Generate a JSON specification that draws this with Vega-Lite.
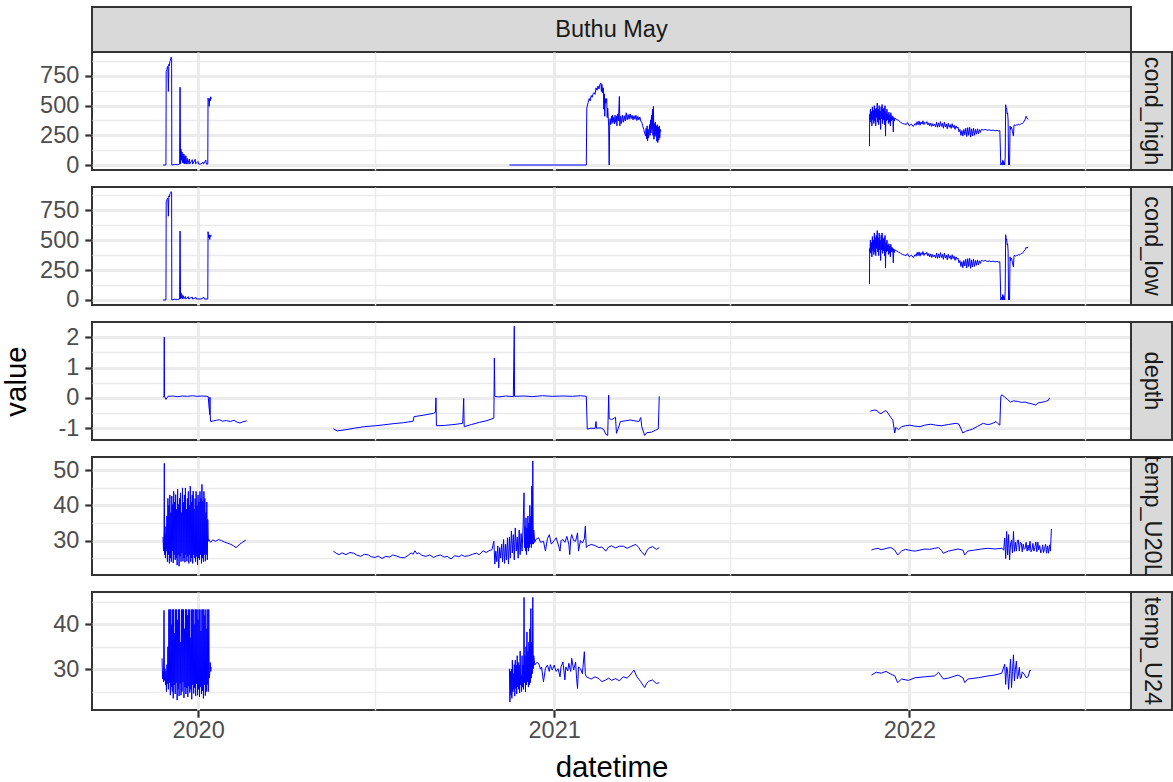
{
"$schema":"https://vega.github.io/schema/vega-lite/v6.json",
"padding":{"left":0,"top":6,"right":0,"bottom":0},
"background":"white",
"config":{
 "font":"Liberation Sans",
 "view":{"stroke":"#333333","strokeWidth":2},
 "axis":{"gridColor":"#ebebeb","domain":false,"labelFont":"Liberation Sans","labelFontSize":23.5,"labelColor":"#4d4d4d","labelPadding":6,"tickColor":"#333333","tickSize":7.2,"tickWidth":2.2,"titleFont":"Liberation Sans","titleFontSize":29.4,"titleColor":"#000000","titleFontWeight":"normal","labelFlush":false,"labelOverlap":false}
},
"datasets":{
"ch":[
{"t":"2019-11-26","v":0},{"t":"2019-11-29","v":0},{"t":"2019-11-29T06:00Z","v":790},{"t":"2019-11-30","v":805},{"t":"2019-11-30T12:00Z","v":830},{"t":"2019-12-01","v":815},{"t":"2019-12-01T12:00Z","v":620},{"t":"2019-12-02","v":850},{"t":"2019-12-02T12:00Z","v":835},{"t":"2019-12-03","v":870},{"t":"2019-12-03T12:00Z","v":880},{"t":"2019-12-04","v":900},{"t":"2019-12-04T08:00Z","v":908},{"t":"2019-12-04T20:00Z","v":890},{"t":"2019-12-05","v":0},{"t":"2019-12-08","v":5},{"t":"2019-12-11","v":3},{"t":"2019-12-13","v":8},{"t":"2019-12-13T12:00Z","v":656},{"t":"2019-12-14","v":10},{"t":"2019-12-14T12:00Z","v":133},{"t":"2019-12-15","v":40},{"t":"2019-12-15T12:00Z","v":110},{"t":"2019-12-16","v":20},{"t":"2019-12-16T12:00Z","v":95},{"t":"2019-12-17","v":15},{"t":"2019-12-17T12:00Z","v":92},{"t":"2019-12-18","v":10},{"t":"2019-12-18T12:00Z","v":75},{"t":"2019-12-19","v":12},{"t":"2019-12-19T12:00Z","v":78},{"t":"2019-12-20","v":8},{"t":"2019-12-21","v":55},{"t":"2019-12-21T12:00Z","v":8},{"t":"2019-12-23","v":50},{"t":"2019-12-23T12:00Z","v":8},{"t":"2019-12-26","v":45},{"t":"2019-12-26T12:00Z","v":8},{"t":"2019-12-29","v":48},{"t":"2019-12-29T12:00Z","v":10},{"t":"2020-01-01","v":30},{"t":"2020-01-01T12:00Z","v":8},{"t":"2020-01-04","v":8},{"t":"2020-01-06","v":25},{"t":"2020-01-06T12:00Z","v":8},{"t":"2020-01-09","v":42},{"t":"2020-01-09T12:00Z","v":8},{"t":"2020-01-11","v":8},{"t":"2020-01-11T06:00Z","v":564},{"t":"2020-01-12","v":536},{"t":"2020-01-12T12:00Z","v":494},{"t":"2020-01-13","v":560},{"t":"2020-01-13T12:00Z","v":540},{"t":"2020-01-14","v":575},{"t":"2020-01-14T12:00Z","v":555},
{"t":"2020-06-01","v":null},
{"t":"2020-11-16","v":0},{"t":"2021-02-03","v":0},{"t":"2021-02-03T12:00Z","v":480},{"t":"2021-02-05","v":530},{"t":"2021-02-06","v":560},{"t":"2021-02-07","v":540},{"t":"2021-02-08","v":585},{"t":"2021-02-09","v":570},{"t":"2021-02-10","v":600},{"t":"2021-02-11","v":610},{"t":"2021-02-12","v":595},{"t":"2021-02-13","v":650},{"t":"2021-02-14","v":630},{"t":"2021-02-15","v":665},{"t":"2021-02-16","v":640},{"t":"2021-02-17","v":680},{"t":"2021-02-18","v":692},{"t":"2021-02-18T12:00Z","v":620},{"t":"2021-02-19","v":680},{"t":"2021-02-20","v":606},{"t":"2021-02-20T12:00Z","v":650},{"t":"2021-02-21","v":470},{"t":"2021-02-21T12:00Z","v":600},{"t":"2021-02-22","v":411},{"t":"2021-02-22T12:00Z","v":560},{"t":"2021-02-23","v":520},{"t":"2021-02-24","v":560},{"t":"2021-02-24T12:00Z","v":400},{"t":"2021-02-25","v":480},{"t":"2021-02-26","v":328},{"t":"2021-02-26T12:00Z","v":0},{"t":"2021-02-27","v":330},{"t":"2021-02-27T12:00Z","v":390},{"t":"2021-02-28","v":340},{"t":"2021-03-01","v":410},{"t":"2021-03-01T12:00Z","v":350},{"t":"2021-03-02","v":420},{"t":"2021-03-02T12:00Z","v":360},{"t":"2021-03-03","v":400},{"t":"2021-03-04","v":345},{"t":"2021-03-04T12:00Z","v":420},{"t":"2021-03-05","v":360},{"t":"2021-03-06","v":410},{"t":"2021-03-06T12:00Z","v":330},{"t":"2021-03-07","v":430},{"t":"2021-03-08","v":370},{"t":"2021-03-09","v":578},{"t":"2021-03-09T12:00Z","v":330},{"t":"2021-03-10","v":410},{"t":"2021-03-11","v":350},{"t":"2021-03-12","v":420},{"t":"2021-03-13","v":360},{"t":"2021-03-14","v":415},{"t":"2021-03-15","v":370},{"t":"2021-03-16","v":440},{"t":"2021-03-17","v":380},{"t":"2021-03-18","v":425},{"t":"2021-03-19","v":385},{"t":"2021-03-20","v":430},{"t":"2021-03-21","v":390},{"t":"2021-03-22","v":420},{"t":"2021-03-23","v":380},{"t":"2021-03-24","v":415},{"t":"2021-03-25","v":385},{"t":"2021-03-26","v":420},{"t":"2021-03-27","v":375},{"t":"2021-03-28","v":410},{"t":"2021-03-29","v":380},{"t":"2021-03-30","v":405},{"t":"2021-03-31","v":370},{"t":"2021-04-01","v":360},{"t":"2021-04-02","v":330},{"t":"2021-04-03","v":300},{"t":"2021-04-04","v":270},{"t":"2021-04-05","v":244},{"t":"2021-04-05T12:00Z","v":310},{"t":"2021-04-06","v":220},{"t":"2021-04-06T12:00Z","v":330},{"t":"2021-04-07","v":203},{"t":"2021-04-07T12:00Z","v":300},{"t":"2021-04-08","v":230},{"t":"2021-04-09","v":340},{"t":"2021-04-09T12:00Z","v":250},{"t":"2021-04-10","v":380},{"t":"2021-04-10T12:00Z","v":270},{"t":"2021-04-11","v":420},{"t":"2021-04-11T12:00Z","v":300},{"t":"2021-04-12","v":470},{"t":"2021-04-12T12:00Z","v":250},{"t":"2021-04-13","v":494},{"t":"2021-04-13T12:00Z","v":217},{"t":"2021-04-14","v":350},{"t":"2021-04-14T12:00Z","v":240},{"t":"2021-04-15","v":360},{"t":"2021-04-15T12:00Z","v":250},{"t":"2021-04-16","v":330},{"t":"2021-04-16T12:00Z","v":200},{"t":"2021-04-17","v":340},{"t":"2021-04-17T12:00Z","v":189},{"t":"2021-04-18","v":320},{"t":"2021-04-18T12:00Z","v":210},{"t":"2021-04-19","v":330},{"t":"2021-04-19T12:00Z","v":230},{"t":"2021-04-20","v":300},{"t":"2021-04-20T12:00Z","v":280},
{"t":"2021-08-01","v":null},
{"t":"2021-11-21","v":161},{"t":"2021-11-21T06:00Z","v":425},{"t":"2021-11-21T12:00Z","v":380},{"t":"2021-11-22","v":470},{"t":"2021-11-22T12:00Z","v":360},{"t":"2021-11-23","v":450},{"t":"2021-11-23T12:00Z","v":330},{"t":"2021-11-24","v":490},{"t":"2021-11-24T12:00Z","v":380},{"t":"2021-11-25","v":460},{"t":"2021-11-25T12:00Z","v":350},{"t":"2021-11-26","v":500},{"t":"2021-11-26T12:00Z","v":370},{"t":"2021-11-27","v":470},{"t":"2021-11-27T12:00Z","v":330},{"t":"2021-11-28","v":480},{"t":"2021-11-28T12:00Z","v":400},{"t":"2021-11-29","v":522},{"t":"2021-11-29T12:00Z","v":360},{"t":"2021-11-30","v":470},{"t":"2021-11-30T12:00Z","v":340},{"t":"2021-12-01","v":500},{"t":"2021-12-01T12:00Z","v":380},{"t":"2021-12-02","v":455},{"t":"2021-12-02T12:00Z","v":300},{"t":"2021-12-03","v":490},{"t":"2021-12-03T12:00Z","v":390},{"t":"2021-12-04","v":510},{"t":"2021-12-04T12:00Z","v":350},{"t":"2021-12-05","v":470},{"t":"2021-12-05T12:00Z","v":380},{"t":"2021-12-06","v":480},{"t":"2021-12-06T12:00Z","v":340},{"t":"2021-12-07","v":500},{"t":"2021-12-07T12:00Z","v":244},{"t":"2021-12-08","v":450},{"t":"2021-12-08T12:00Z","v":370},{"t":"2021-12-09","v":470},{"t":"2021-12-09T12:00Z","v":380},{"t":"2021-12-10","v":430},{"t":"2021-12-10T12:00Z","v":350},{"t":"2021-12-11","v":445},{"t":"2021-12-11T12:00Z","v":360},{"t":"2021-12-12","v":420},{"t":"2021-12-12T12:00Z","v":330},{"t":"2021-12-13","v":440},{"t":"2021-12-13T12:00Z","v":370},{"t":"2021-12-14","v":415},{"t":"2021-12-14T12:00Z","v":380},{"t":"2021-12-15","v":410},{"t":"2021-12-15T12:00Z","v":280},{"t":"2021-12-16","v":400},{"t":"2021-12-16T12:00Z","v":370},{"t":"2021-12-17","v":395},{"t":"2021-12-19","v":383},{"t":"2021-12-21","v":375},{"t":"2021-12-23","v":360},{"t":"2021-12-25","v":350},{"t":"2021-12-27","v":345},{"t":"2021-12-29","v":342},{"t":"2021-12-30","v":358},{"t":"2022-01-01","v":330},{"t":"2022-01-03","v":345},{"t":"2022-01-05","v":325},{"t":"2022-01-07","v":350},{"t":"2022-01-08","v":335},{"t":"2022-01-09","v":365},{"t":"2022-01-10","v":340},{"t":"2022-01-11","v":370},{"t":"2022-01-12","v":335},{"t":"2022-01-13","v":362},{"t":"2022-01-14","v":345},{"t":"2022-01-15","v":372},{"t":"2022-01-16","v":340},{"t":"2022-01-17","v":360},{"t":"2022-01-18","v":350},{"t":"2022-01-19","v":366},{"t":"2022-01-20","v":338},{"t":"2022-01-21","v":355},{"t":"2022-01-22","v":330},{"t":"2022-01-23","v":352},{"t":"2022-01-24","v":325},{"t":"2022-01-25","v":348},{"t":"2022-01-26","v":330},{"t":"2022-01-27","v":345},{"t":"2022-01-28","v":320},{"t":"2022-01-29","v":360},{"t":"2022-01-30","v":318},{"t":"2022-01-31","v":355},{"t":"2022-02-01","v":322},{"t":"2022-02-02","v":365},{"t":"2022-02-03","v":325},{"t":"2022-02-04","v":350},{"t":"2022-02-05","v":310},{"t":"2022-02-06","v":362},{"t":"2022-02-07","v":320},{"t":"2022-02-08","v":345},{"t":"2022-02-09","v":305},{"t":"2022-02-10","v":352},{"t":"2022-02-11","v":318},{"t":"2022-02-12","v":340},{"t":"2022-02-13","v":308},{"t":"2022-02-14","v":348},{"t":"2022-02-15","v":315},{"t":"2022-02-16","v":335},{"t":"2022-02-17","v":300},{"t":"2022-02-18","v":330},{"t":"2022-02-19","v":310},{"t":"2022-02-20","v":320},{"t":"2022-02-21","v":280},{"t":"2022-02-22","v":300},{"t":"2022-02-23","v":250},{"t":"2022-02-24","v":290},{"t":"2022-02-25","v":244},{"t":"2022-02-26","v":300},{"t":"2022-02-27","v":255},{"t":"2022-02-28","v":310},{"t":"2022-03-01","v":240},{"t":"2022-03-02","v":315},{"t":"2022-03-03","v":250},{"t":"2022-03-04","v":317},{"t":"2022-03-05","v":235},{"t":"2022-03-06","v":305},{"t":"2022-03-07","v":245},{"t":"2022-03-08","v":310},{"t":"2022-03-09","v":250},{"t":"2022-03-10","v":300},{"t":"2022-03-11","v":260},{"t":"2022-03-12","v":305},{"t":"2022-03-13","v":262},{"t":"2022-03-14","v":298},{"t":"2022-03-15","v":275},{"t":"2022-03-16","v":300},{"t":"2022-03-18","v":295},{"t":"2022-03-20","v":300},{"t":"2022-03-22","v":292},{"t":"2022-03-24","v":297},{"t":"2022-03-26","v":290},{"t":"2022-03-28","v":295},{"t":"2022-03-30","v":288},{"t":"2022-04-01","v":292},{"t":"2022-04-03","v":286},{"t":"2022-04-04","v":290},{"t":"2022-04-05","v":0},{"t":"2022-04-06","v":20},{"t":"2022-04-06T12:00Z","v":0},{"t":"2022-04-07","v":40},{"t":"2022-04-07T12:00Z","v":0},{"t":"2022-04-08","v":30},{"t":"2022-04-09","v":0},{"t":"2022-04-09T12:00Z","v":60},{"t":"2022-04-10","v":508},{"t":"2022-04-10T12:00Z","v":470},{"t":"2022-04-11","v":480},{"t":"2022-04-11T12:00Z","v":430},{"t":"2022-04-12","v":439},{"t":"2022-04-12T12:00Z","v":380},{"t":"2022-04-13","v":0},{"t":"2022-04-13T12:00Z","v":30},{"t":"2022-04-14","v":0},{"t":"2022-04-14T12:00Z","v":328},{"t":"2022-04-15","v":300},{"t":"2022-04-16","v":320},{"t":"2022-04-17","v":280},{"t":"2022-04-18","v":244},{"t":"2022-04-18T12:00Z","v":330},{"t":"2022-04-19","v":340},{"t":"2022-04-20","v":330},{"t":"2022-04-21","v":338},{"t":"2022-04-22","v":335},{"t":"2022-04-23","v":345},{"t":"2022-04-24","v":340},{"t":"2022-04-25","v":342},{"t":"2022-04-26","v":350},{"t":"2022-04-27","v":348},{"t":"2022-04-28","v":356},{"t":"2022-04-29","v":370},{"t":"2022-04-30","v":385},{"t":"2022-05-01","v":411},{"t":"2022-05-02","v":395},{"t":"2022-05-03","v":383}
],
"cl":[
{"t":"2019-11-26","v":0},{"t":"2019-11-29","v":0},{"t":"2019-11-29T06:00Z","v":820},{"t":"2019-11-30","v":835},{"t":"2019-11-30T12:00Z","v":850},{"t":"2019-12-01","v":840},{"t":"2019-12-01T12:00Z","v":700},{"t":"2019-12-02","v":870},{"t":"2019-12-02T12:00Z","v":860},{"t":"2019-12-03","v":885},{"t":"2019-12-03T12:00Z","v":890},{"t":"2019-12-04","v":900},{"t":"2019-12-04T08:00Z","v":905},{"t":"2019-12-04T20:00Z","v":895},{"t":"2019-12-05","v":0},{"t":"2019-12-08","v":6},{"t":"2019-12-11","v":4},{"t":"2019-12-13","v":8},{"t":"2019-12-13T12:00Z","v":575},{"t":"2019-12-14","v":10},{"t":"2019-12-14T12:00Z","v":60},{"t":"2019-12-15","v":15},{"t":"2019-12-15T12:00Z","v":45},{"t":"2019-12-16","v":10},{"t":"2019-12-17","v":35},{"t":"2019-12-17T12:00Z","v":10},{"t":"2019-12-19","v":30},{"t":"2019-12-19T12:00Z","v":8},{"t":"2019-12-22","v":28},{"t":"2019-12-22T12:00Z","v":8},{"t":"2019-12-26","v":25},{"t":"2019-12-26T12:00Z","v":8},{"t":"2019-12-30","v":20},{"t":"2019-12-30T12:00Z","v":8},{"t":"2020-01-04","v":8},{"t":"2020-01-07","v":22},{"t":"2020-01-07T12:00Z","v":8},{"t":"2020-01-11","v":8},{"t":"2020-01-11T06:00Z","v":570},{"t":"2020-01-12","v":520},{"t":"2020-01-12T12:00Z","v":545},{"t":"2020-01-13","v":505},{"t":"2020-01-13T12:00Z","v":540},{"t":"2020-01-14","v":530},{"t":"2020-01-14T12:00Z","v":545},
{"t":"2020-06-01","v":null},
{"t":"2021-11-21","v":133},{"t":"2021-11-21T06:00Z","v":430},{"t":"2021-11-21T12:00Z","v":400},{"t":"2021-11-22","v":500},{"t":"2021-11-22T12:00Z","v":390},{"t":"2021-11-23","v":480},{"t":"2021-11-23T12:00Z","v":360},{"t":"2021-11-24","v":530},{"t":"2021-11-24T12:00Z","v":410},{"t":"2021-11-25","v":500},{"t":"2021-11-25T12:00Z","v":380},{"t":"2021-11-26","v":560},{"t":"2021-11-26T12:00Z","v":400},{"t":"2021-11-27","v":520},{"t":"2021-11-27T12:00Z","v":370},{"t":"2021-11-28","v":540},{"t":"2021-11-28T12:00Z","v":430},{"t":"2021-11-29","v":580},{"t":"2021-11-29T12:00Z","v":400},{"t":"2021-11-30","v":520},{"t":"2021-11-30T12:00Z","v":370},{"t":"2021-12-01","v":560},{"t":"2021-12-01T12:00Z","v":420},{"t":"2021-12-02","v":500},{"t":"2021-12-02T12:00Z","v":330},{"t":"2021-12-03","v":540},{"t":"2021-12-03T12:00Z","v":420},{"t":"2021-12-04","v":560},{"t":"2021-12-04T12:00Z","v":390},{"t":"2021-12-05","v":510},{"t":"2021-12-05T12:00Z","v":410},{"t":"2021-12-06","v":520},{"t":"2021-12-06T12:00Z","v":370},{"t":"2021-12-07","v":540},{"t":"2021-12-07T12:00Z","v":270},{"t":"2021-12-08","v":480},{"t":"2021-12-08T12:00Z","v":400},{"t":"2021-12-09","v":500},{"t":"2021-12-09T12:00Z","v":410},{"t":"2021-12-10","v":460},{"t":"2021-12-10T12:00Z","v":380},{"t":"2021-12-11","v":470},{"t":"2021-12-11T12:00Z","v":390},{"t":"2021-12-12","v":450},{"t":"2021-12-12T12:00Z","v":360},{"t":"2021-12-13","v":465},{"t":"2021-12-13T12:00Z","v":400},{"t":"2021-12-14","v":440},{"t":"2021-12-14T12:00Z","v":405},{"t":"2021-12-15","v":435},{"t":"2021-12-15T12:00Z","v":310},{"t":"2021-12-16","v":425},{"t":"2021-12-16T12:00Z","v":395},{"t":"2021-12-17","v":420},{"t":"2021-12-19","v":410},{"t":"2021-12-21","v":400},{"t":"2021-12-23","v":390},{"t":"2021-12-25","v":380},{"t":"2021-12-27","v":375},{"t":"2021-12-29","v":372},{"t":"2021-12-30","v":388},{"t":"2022-01-01","v":360},{"t":"2022-01-03","v":375},{"t":"2022-01-05","v":355},{"t":"2022-01-07","v":380},{"t":"2022-01-08","v":365},{"t":"2022-01-09","v":398},{"t":"2022-01-10","v":370},{"t":"2022-01-11","v":402},{"t":"2022-01-12","v":366},{"t":"2022-01-13","v":395},{"t":"2022-01-14","v":378},{"t":"2022-01-15","v":405},{"t":"2022-01-16","v":372},{"t":"2022-01-17","v":392},{"t":"2022-01-18","v":382},{"t":"2022-01-19","v":398},{"t":"2022-01-20","v":368},{"t":"2022-01-21","v":388},{"t":"2022-01-22","v":360},{"t":"2022-01-23","v":385},{"t":"2022-01-24","v":355},{"t":"2022-01-25","v":380},{"t":"2022-01-26","v":360},{"t":"2022-01-27","v":375},{"t":"2022-01-28","v":350},{"t":"2022-01-29","v":392},{"t":"2022-01-30","v":348},{"t":"2022-01-31","v":385},{"t":"2022-02-01","v":352},{"t":"2022-02-02","v":396},{"t":"2022-02-03","v":355},{"t":"2022-02-04","v":380},{"t":"2022-02-05","v":340},{"t":"2022-02-06","v":392},{"t":"2022-02-07","v":350},{"t":"2022-02-08","v":375},{"t":"2022-02-09","v":335},{"t":"2022-02-10","v":382},{"t":"2022-02-11","v":348},{"t":"2022-02-12","v":370},{"t":"2022-02-13","v":338},{"t":"2022-02-14","v":378},{"t":"2022-02-15","v":345},{"t":"2022-02-16","v":365},{"t":"2022-02-17","v":330},{"t":"2022-02-18","v":360},{"t":"2022-02-19","v":340},{"t":"2022-02-20","v":350},{"t":"2022-02-21","v":310},{"t":"2022-02-22","v":330},{"t":"2022-02-23","v":280},{"t":"2022-02-24","v":320},{"t":"2022-02-25","v":270},{"t":"2022-02-26","v":330},{"t":"2022-02-27","v":285},{"t":"2022-02-28","v":340},{"t":"2022-03-01","v":268},{"t":"2022-03-02","v":345},{"t":"2022-03-03","v":280},{"t":"2022-03-04","v":348},{"t":"2022-03-05","v":265},{"t":"2022-03-06","v":335},{"t":"2022-03-07","v":275},{"t":"2022-03-08","v":340},{"t":"2022-03-09","v":280},{"t":"2022-03-10","v":330},{"t":"2022-03-11","v":290},{"t":"2022-03-12","v":335},{"t":"2022-03-13","v":292},{"t":"2022-03-14","v":328},{"t":"2022-03-15","v":305},{"t":"2022-03-16","v":330},{"t":"2022-03-18","v":325},{"t":"2022-03-20","v":330},{"t":"2022-03-22","v":322},{"t":"2022-03-24","v":327},{"t":"2022-03-26","v":320},{"t":"2022-03-28","v":325},{"t":"2022-03-30","v":318},{"t":"2022-04-01","v":322},{"t":"2022-04-03","v":316},{"t":"2022-04-04","v":320},{"t":"2022-04-05","v":0},{"t":"2022-04-06","v":25},{"t":"2022-04-06T12:00Z","v":0},{"t":"2022-04-07","v":45},{"t":"2022-04-07T12:00Z","v":0},{"t":"2022-04-08","v":35},{"t":"2022-04-09","v":0},{"t":"2022-04-09T12:00Z","v":70},{"t":"2022-04-10","v":545},{"t":"2022-04-10T12:00Z","v":500},{"t":"2022-04-11","v":510},{"t":"2022-04-11T12:00Z","v":460},{"t":"2022-04-12","v":470},{"t":"2022-04-12T12:00Z","v":410},{"t":"2022-04-13","v":0},{"t":"2022-04-13T12:00Z","v":35},{"t":"2022-04-14","v":0},{"t":"2022-04-14T12:00Z","v":360},{"t":"2022-04-15","v":330},{"t":"2022-04-16","v":350},{"t":"2022-04-17","v":310},{"t":"2022-04-18","v":275},{"t":"2022-04-18T12:00Z","v":365},{"t":"2022-04-19","v":375},{"t":"2022-04-20","v":365},{"t":"2022-04-21","v":372},{"t":"2022-04-22","v":370},{"t":"2022-04-23","v":380},{"t":"2022-04-24","v":376},{"t":"2022-04-25","v":380},{"t":"2022-04-26","v":390},{"t":"2022-04-27","v":388},{"t":"2022-04-28","v":398},{"t":"2022-04-29","v":410},{"t":"2022-04-30","v":420},{"t":"2022-05-01","v":440},{"t":"2022-05-02","v":432},{"t":"2022-05-03","v":445}
],
"dp":[
{"t":"2019-11-26","v":0.03},{"t":"2019-11-27","v":0.04},{"t":"2019-11-27T06:00Z","v":2.0},{"t":"2019-11-27T12:00Z","v":0.05},{"t":"2019-11-29","v":-0.05},{"t":"2019-12-01","v":0.05},{"t":"2019-12-06","v":0.06},{"t":"2019-12-11","v":0.04},{"t":"2019-12-16","v":0.06},{"t":"2019-12-21","v":0.05},{"t":"2019-12-26","v":0.07},{"t":"2019-12-31","v":0.05},{"t":"2020-01-05","v":0.06},{"t":"2020-01-10","v":0.05},{"t":"2020-01-11T12:00Z","v":0.04},{"t":"2020-01-12","v":-0.2},{"t":"2020-01-13","v":-0.55},{"t":"2020-01-13T06:00Z","v":0.02},{"t":"2020-01-13T12:00Z","v":-0.6},{"t":"2020-01-14","v":-0.78},{"t":"2020-01-17","v":-0.76},{"t":"2020-01-20","v":-0.74},{"t":"2020-01-23","v":-0.72},{"t":"2020-01-26","v":-0.77},{"t":"2020-01-30","v":-0.75},{"t":"2020-02-03","v":-0.78},{"t":"2020-02-07","v":-0.74},{"t":"2020-02-10","v":-0.8},{"t":"2020-02-13","v":-0.83},{"t":"2020-02-16","v":-0.79},{"t":"2020-02-20","v":-0.76},
{"t":"2020-03-20","v":null},
{"t":"2020-05-19","v":-1.02},{"t":"2020-05-23","v":-1.09},{"t":"2020-06-01","v":-1.05},{"t":"2020-06-10","v":-1.0},{"t":"2020-06-20","v":-0.95},{"t":"2020-07-01","v":-0.92},{"t":"2020-07-10","v":-0.89},{"t":"2020-07-20","v":-0.85},{"t":"2020-07-30","v":-0.82},{"t":"2020-08-09","v":-0.77},{"t":"2020-08-10","v":-0.62},{"t":"2020-08-20","v":-0.57},{"t":"2020-08-30","v":-0.51},{"t":"2020-09-01","v":-0.47},{"t":"2020-09-01T12:00Z","v":0.0},{"t":"2020-09-02","v":-0.92},{"t":"2020-09-10","v":-0.91},{"t":"2020-09-20","v":-0.88},{"t":"2020-09-29","v":-0.84},{"t":"2020-09-30","v":-0.02},{"t":"2020-09-30T12:00Z","v":-0.95},{"t":"2020-10-08","v":-0.88},{"t":"2020-10-16","v":-0.81},{"t":"2020-10-24","v":-0.75},{"t":"2020-10-31","v":-0.67},{"t":"2020-10-31T12:00Z","v":1.31},{"t":"2020-11-01","v":0.05},{"t":"2020-11-05","v":0.03},{"t":"2020-11-12","v":0.06},{"t":"2020-11-20","v":0.04},{"t":"2020-11-21","v":2.36},{"t":"2020-11-21T06:00Z","v":0.05},{"t":"2020-12-01","v":0.06},{"t":"2020-12-10","v":0.04},{"t":"2020-12-20","v":0.07},{"t":"2020-12-30","v":0.05},{"t":"2021-01-10","v":0.06},{"t":"2021-01-20","v":0.05},{"t":"2021-01-28","v":0.07},{"t":"2021-02-03","v":0.05},{"t":"2021-02-04","v":-1.03},{"t":"2021-02-08","v":-1.0},{"t":"2021-02-12","v":-1.01},{"t":"2021-02-13","v":-0.78},{"t":"2021-02-13T12:00Z","v":-1.0},{"t":"2021-02-18","v":-0.99},{"t":"2021-02-21","v":-1.05},{"t":"2021-02-23","v":-1.2},{"t":"2021-02-25","v":-1.24},{"t":"2021-02-26","v":0.09},{"t":"2021-02-26T12:00Z","v":-0.68},{"t":"2021-03-01","v":-0.72},{"t":"2021-03-04","v":-0.66},{"t":"2021-03-05","v":-0.64},{"t":"2021-03-06","v":-1.17},{"t":"2021-03-09","v":-0.9},{"t":"2021-03-10","v":-0.78},{"t":"2021-03-15","v":-0.76},{"t":"2021-03-20","v":-0.73},{"t":"2021-03-25","v":-0.76},{"t":"2021-03-29","v":-0.78},{"t":"2021-03-31","v":-0.65},{"t":"2021-04-01","v":-0.95},{"t":"2021-04-04","v":-1.24},{"t":"2021-04-06","v":-1.15},{"t":"2021-04-11","v":-1.13},{"t":"2021-04-15","v":-1.07},{"t":"2021-04-18","v":-1.02},{"t":"2021-04-19","v":0.05},
{"t":"2021-08-01","v":null},
{"t":"2021-11-22","v":-0.44},{"t":"2021-11-26","v":-0.4},{"t":"2021-11-29","v":-0.42},{"t":"2021-12-01","v":-0.5},{"t":"2021-12-03","v":-0.52},{"t":"2021-12-06","v":-0.45},{"t":"2021-12-08","v":-0.42},{"t":"2021-12-10","v":-0.5},{"t":"2021-12-13","v":-0.65},{"t":"2021-12-15","v":-0.73},{"t":"2021-12-17","v":-1.16},{"t":"2021-12-18","v":-0.98},{"t":"2021-12-19","v":-1.0},{"t":"2021-12-21","v":-1.05},{"t":"2021-12-24","v":-0.95},{"t":"2021-12-28","v":-0.92},{"t":"2022-01-01","v":-0.9},{"t":"2022-01-06","v":-0.93},{"t":"2022-01-12","v":-0.95},{"t":"2022-01-17","v":-0.9},{"t":"2022-01-23","v":-0.87},{"t":"2022-01-28","v":-0.9},{"t":"2022-02-03","v":-0.92},{"t":"2022-02-10","v":-0.88},{"t":"2022-02-18","v":-0.84},{"t":"2022-02-21","v":-0.87},{"t":"2022-02-25","v":-1.16},{"t":"2022-02-28","v":-1.1},{"t":"2022-03-04","v":-1.06},{"t":"2022-03-07","v":-1.03},{"t":"2022-03-12","v":-0.94},{"t":"2022-03-18","v":-0.84},{"t":"2022-03-22","v":-0.88},{"t":"2022-03-25","v":-0.87},{"t":"2022-03-29","v":-0.82},{"t":"2022-03-31","v":-0.78},{"t":"2022-04-02","v":-0.85},{"t":"2022-04-04","v":-0.9},{"t":"2022-04-05","v":0.05},{"t":"2022-04-06","v":0.1},{"t":"2022-04-09","v":0.03},{"t":"2022-04-12","v":-0.06},{"t":"2022-04-15","v":-0.14},{"t":"2022-04-18","v":-0.1},{"t":"2022-04-23","v":-0.12},{"t":"2022-04-26","v":-0.15},{"t":"2022-04-30","v":-0.14},{"t":"2022-05-03","v":-0.17},{"t":"2022-05-07","v":-0.2},{"t":"2022-05-11","v":-0.24},{"t":"2022-05-13","v":-0.17},{"t":"2022-05-18","v":-0.14},{"t":"2022-05-21","v":-0.12},{"t":"2022-05-24","v":-0.08},{"t":"2022-05-25","v":0.0}
],
"ua":[
{"t":"2019-11-26","v":31},{"t":"2019-11-26T12:00Z","v":27},{"t":"2019-11-27","v":33},{"t":"2019-11-27T08:00Z","v":52},{"t":"2019-11-27T16:00Z","v":26},{"t":"2019-11-28","v":32},{"t":"2019-11-28T12:00Z","v":25},{"t":"2019-11-29","v":34},{"t":"2019-11-29T12:00Z","v":27},{"t":"2019-11-30","v":37},{"t":"2019-11-30T12:00Z","v":24},{"t":"2019-12-01","v":42},{"t":"2019-12-01T12:00Z","v":26},{"t":"2019-12-02","v":40},{"t":"2019-12-02T12:00Z","v":23.5},{"t":"2019-12-03","v":43},{"t":"2019-12-03T12:00Z","v":25},{"t":"2019-12-04","v":38},{"t":"2019-12-04T12:00Z","v":24},{"t":"2019-12-05","v":42.7},{"t":"2019-12-05T12:00Z","v":27},{"t":"2019-12-06","v":40.3},{"t":"2019-12-06T12:00Z","v":23.6},{"t":"2019-12-07","v":44},{"t":"2019-12-07T12:00Z","v":26},{"t":"2019-12-08","v":41},{"t":"2019-12-08T12:00Z","v":24.5},{"t":"2019-12-09","v":43.1},{"t":"2019-12-09T12:00Z","v":25},{"t":"2019-12-10","v":39},{"t":"2019-12-10T12:00Z","v":23},{"t":"2019-12-11","v":44.6},{"t":"2019-12-11T12:00Z","v":26},{"t":"2019-12-12","v":40.3},{"t":"2019-12-12T12:00Z","v":22.7},{"t":"2019-12-13","v":42},{"t":"2019-12-13T12:00Z","v":25.5},{"t":"2019-12-14","v":43.6},{"t":"2019-12-14T12:00Z","v":24},{"t":"2019-12-15","v":38},{"t":"2019-12-15T12:00Z","v":26.5},{"t":"2019-12-16","v":45},{"t":"2019-12-16T12:00Z","v":24.1},{"t":"2019-12-17","v":41},{"t":"2019-12-17T12:00Z","v":25},{"t":"2019-12-18","v":43},{"t":"2019-12-18T12:00Z","v":23.8},{"t":"2019-12-19","v":45},{"t":"2019-12-19T12:00Z","v":26},{"t":"2019-12-20","v":39},{"t":"2019-12-20T12:00Z","v":24.1},{"t":"2019-12-21","v":42},{"t":"2019-12-21T12:00Z","v":25.5},{"t":"2019-12-22","v":44},{"t":"2019-12-22T12:00Z","v":23.5},{"t":"2019-12-23","v":40},{"t":"2019-12-23T12:00Z","v":26},{"t":"2019-12-24","v":45.5},{"t":"2019-12-24T12:00Z","v":24},{"t":"2019-12-25","v":41},{"t":"2019-12-25T12:00Z","v":25},{"t":"2019-12-26","v":43},{"t":"2019-12-26T12:00Z","v":23.5},{"t":"2019-12-27","v":44.1},{"t":"2019-12-27T12:00Z","v":26},{"t":"2019-12-28","v":39},{"t":"2019-12-28T12:00Z","v":25},{"t":"2019-12-29","v":42},{"t":"2019-12-29T12:00Z","v":24},{"t":"2019-12-30","v":44},{"t":"2019-12-30T12:00Z","v":25.5},{"t":"2019-12-31","v":40},{"t":"2019-12-31T12:00Z","v":23.1},{"t":"2020-01-01","v":43},{"t":"2020-01-01T12:00Z","v":25},{"t":"2020-01-02","v":41},{"t":"2020-01-02T12:00Z","v":24.5},{"t":"2020-01-03","v":44},{"t":"2020-01-03T12:00Z","v":26},{"t":"2020-01-04","v":42},{"t":"2020-01-04T12:00Z","v":23.5},{"t":"2020-01-05","v":46},{"t":"2020-01-05T12:00Z","v":25},{"t":"2020-01-06","v":41.2},{"t":"2020-01-06T12:00Z","v":24},{"t":"2020-01-07","v":44},{"t":"2020-01-07T12:00Z","v":26},{"t":"2020-01-08","v":42},{"t":"2020-01-08T12:00Z","v":24.1},{"t":"2020-01-09","v":38},{"t":"2020-01-09T12:00Z","v":26},{"t":"2020-01-10","v":41},{"t":"2020-01-10T12:00Z","v":24.5},{"t":"2020-01-11","v":36},{"t":"2020-01-11T12:00Z","v":29.8},{"t":"2020-01-12","v":30.3},{"t":"2020-01-14","v":29.5},{"t":"2020-01-16","v":30.2},{"t":"2020-01-19","v":29.8},{"t":"2020-01-22","v":30.3},{"t":"2020-01-25","v":30},{"t":"2020-01-28","v":29.6},{"t":"2020-01-31","v":29.3},{"t":"2020-02-03","v":29},{"t":"2020-02-06","v":28.6},{"t":"2020-02-09","v":28},{"t":"2020-02-11","v":28.5},{"t":"2020-02-13","v":29},{"t":"2020-02-16","v":29.6},{"t":"2020-02-19","v":30.1},
{"t":"2020-04-01","v":null},
{"t":"2020-05-19","v":27},{"t":"2020-05-22","v":26.4},{"t":"2020-05-25","v":26},{"t":"2020-05-28","v":26.5},{"t":"2020-06-01","v":26},{"t":"2020-06-05","v":26.6},{"t":"2020-06-09","v":26.4},{"t":"2020-06-12","v":25.9},{"t":"2020-06-16","v":25.5},{"t":"2020-06-20","v":26.1},{"t":"2020-06-24","v":25.9},{"t":"2020-06-27","v":25.4},{"t":"2020-07-01","v":25.2},{"t":"2020-07-04","v":25.6},{"t":"2020-07-08","v":24.9},{"t":"2020-07-12","v":25.5},{"t":"2020-07-16","v":25.3},{"t":"2020-07-19","v":25.9},{"t":"2020-07-23","v":25.6},{"t":"2020-07-27","v":25.2},{"t":"2020-07-31","v":25.1},{"t":"2020-08-04","v":25.8},{"t":"2020-08-07","v":26.5},{"t":"2020-08-09","v":26.1},{"t":"2020-08-11","v":27.1},{"t":"2020-08-13","v":26.2},{"t":"2020-08-15","v":26.5},{"t":"2020-08-18","v":25.8},{"t":"2020-08-22","v":25.5},{"t":"2020-08-26","v":25.9},{"t":"2020-08-30","v":25.2},{"t":"2020-09-02","v":25.6},{"t":"2020-09-06","v":25.9},{"t":"2020-09-10","v":25.3},{"t":"2020-09-13","v":25.5},{"t":"2020-09-17","v":24.8},{"t":"2020-09-21","v":25.7},{"t":"2020-09-25","v":25.4},{"t":"2020-09-28","v":25.9},{"t":"2020-10-01","v":25.5},{"t":"2020-10-05","v":25.7},{"t":"2020-10-09","v":26.1},{"t":"2020-10-13","v":26.4},{"t":"2020-10-16","v":26},{"t":"2020-10-20","v":27.1},{"t":"2020-10-23","v":26.6},{"t":"2020-10-26","v":27.1},{"t":"2020-10-29","v":27.4},{"t":"2020-10-31","v":29.8},{"t":"2020-11-01","v":23.3},{"t":"2020-11-02","v":27},{"t":"2020-11-03","v":24},{"t":"2020-11-04","v":28.5},{"t":"2020-11-05","v":22.2},{"t":"2020-11-06","v":28},{"t":"2020-11-07","v":25},{"t":"2020-11-08","v":29},{"t":"2020-11-09","v":24},{"t":"2020-11-10","v":30.3},{"t":"2020-11-11","v":23.5},{"t":"2020-11-12","v":29},{"t":"2020-11-13","v":24.5},{"t":"2020-11-14","v":30.8},{"t":"2020-11-15","v":23.3},{"t":"2020-11-16","v":31},{"t":"2020-11-17","v":25},{"t":"2020-11-18","v":32.7},{"t":"2020-11-19","v":26.5},{"t":"2020-11-20","v":31.7},{"t":"2020-11-21","v":24.5},{"t":"2020-11-22","v":33.6},{"t":"2020-11-23","v":27},{"t":"2020-11-24","v":31},{"t":"2020-11-25","v":25},{"t":"2020-11-26","v":33},{"t":"2020-11-27","v":26},{"t":"2020-11-28","v":32},{"t":"2020-11-29","v":27},{"t":"2020-11-30","v":33.6},{"t":"2020-12-01","v":43.6},{"t":"2020-12-01T12:00Z","v":28},{"t":"2020-12-02","v":34},{"t":"2020-12-02T12:00Z","v":27},{"t":"2020-12-03","v":36.5},{"t":"2020-12-03T12:00Z","v":26},{"t":"2020-12-04","v":33.6},{"t":"2020-12-04T12:00Z","v":28},{"t":"2020-12-05","v":37},{"t":"2020-12-05T12:00Z","v":27},{"t":"2020-12-06","v":35},{"t":"2020-12-06T12:00Z","v":28},{"t":"2020-12-07","v":40},{"t":"2020-12-07T12:00Z","v":29},{"t":"2020-12-08","v":37},{"t":"2020-12-08T12:00Z","v":28},{"t":"2020-12-09","v":45.5},{"t":"2020-12-09T12:00Z","v":29},{"t":"2020-12-10","v":52.7},{"t":"2020-12-10T12:00Z","v":29},{"t":"2020-12-11","v":33},{"t":"2020-12-12","v":29.5},{"t":"2020-12-13","v":30.3},{"t":"2020-12-16","v":30.8},{"t":"2020-12-18","v":29.5},{"t":"2020-12-21","v":29.8},{"t":"2020-12-23","v":27},{"t":"2020-12-25","v":30.5},{"t":"2020-12-27","v":31.7},{"t":"2020-12-29","v":29},{"t":"2020-12-30","v":29.3},{"t":"2021-01-01","v":30},{"t":"2021-01-03","v":30.8},{"t":"2021-01-05","v":29},{"t":"2021-01-07","v":27},{"t":"2021-01-08","v":30},{"t":"2021-01-10","v":30.3},{"t":"2021-01-12","v":29.5},{"t":"2021-01-14","v":31.2},{"t":"2021-01-16","v":29},{"t":"2021-01-17","v":26},{"t":"2021-01-18","v":30.5},{"t":"2021-01-19","v":31.7},{"t":"2021-01-21","v":30},{"t":"2021-01-23","v":29.8},{"t":"2021-01-24","v":31},{"t":"2021-01-25","v":32.2},{"t":"2021-01-26","v":27},{"t":"2021-01-28","v":30},{"t":"2021-01-30","v":29.3},{"t":"2021-02-01","v":30.5},{"t":"2021-02-02","v":34.1},{"t":"2021-02-03","v":28},{"t":"2021-02-04","v":28.4},{"t":"2021-02-08","v":28.9},{"t":"2021-02-12","v":28.6},{"t":"2021-02-16","v":28},{"t":"2021-02-19","v":28.2},{"t":"2021-02-23","v":27},{"t":"2021-02-26","v":28.2},{"t":"2021-03-01","v":28.5},{"t":"2021-03-05","v":27.9},{"t":"2021-03-09","v":28.4},{"t":"2021-03-13","v":28.4},{"t":"2021-03-17","v":27.8},{"t":"2021-03-20","v":28.2},{"t":"2021-03-23","v":28.6},{"t":"2021-03-26","v":28.9},{"t":"2021-03-29","v":28},{"t":"2021-03-31","v":27},{"t":"2021-04-02","v":26.5},{"t":"2021-04-04","v":25.8},{"t":"2021-04-06","v":27},{"t":"2021-04-08","v":27.8},{"t":"2021-04-12","v":28.3},{"t":"2021-04-16","v":27.5},{"t":"2021-04-19","v":28},
{"t":"2021-08-01","v":null},
{"t":"2021-11-23","v":27.3},{"t":"2021-11-26","v":27.6},{"t":"2021-11-30","v":27.8},{"t":"2021-12-03","v":27.4},{"t":"2021-12-06","v":27.6},{"t":"2021-12-10","v":27.9},{"t":"2021-12-13","v":28},{"t":"2021-12-17","v":27.3},{"t":"2021-12-20","v":25.9},{"t":"2021-12-24","v":27},{"t":"2021-12-28","v":27.5},{"t":"2021-12-31","v":27.3},{"t":"2022-01-04","v":27.1},{"t":"2022-01-07","v":27},{"t":"2022-01-12","v":27.3},{"t":"2022-01-17","v":27.6},{"t":"2022-01-22","v":27.5},{"t":"2022-01-27","v":27.8},{"t":"2022-01-31","v":28},{"t":"2022-02-03","v":27.2},{"t":"2022-02-05","v":26.4},{"t":"2022-02-10","v":27},{"t":"2022-02-15","v":27.3},{"t":"2022-02-20","v":27.6},{"t":"2022-02-25","v":27.3},{"t":"2022-02-27","v":25.9},{"t":"2022-03-02","v":27},{"t":"2022-03-09","v":27.3},{"t":"2022-03-16","v":27.6},{"t":"2022-03-23","v":27.8},{"t":"2022-03-30","v":27.6},{"t":"2022-04-06","v":27.8},{"t":"2022-04-08","v":27.3},{"t":"2022-04-09","v":30.7},{"t":"2022-04-10","v":24.9},{"t":"2022-04-11","v":32.6},{"t":"2022-04-12","v":25.9},{"t":"2022-04-13","v":31.7},{"t":"2022-04-14","v":24.5},{"t":"2022-04-15","v":29},{"t":"2022-04-16","v":30.2},{"t":"2022-04-17","v":26.5},{"t":"2022-04-18","v":32.6},{"t":"2022-04-19","v":26.9},{"t":"2022-04-20","v":29.5},{"t":"2022-04-21","v":27},{"t":"2022-04-22","v":30},{"t":"2022-04-23","v":30.2},{"t":"2022-04-24","v":27},{"t":"2022-04-25","v":29.5},{"t":"2022-04-26","v":29.3},{"t":"2022-04-27","v":26.8},{"t":"2022-04-28","v":29},{"t":"2022-04-29","v":27.5},{"t":"2022-04-30","v":27.8},{"t":"2022-05-01","v":29.5},{"t":"2022-05-02","v":27},{"t":"2022-05-03","v":28.7},{"t":"2022-05-04","v":27.2},{"t":"2022-05-05","v":29.8},{"t":"2022-05-06","v":26.8},{"t":"2022-05-07","v":27.3},{"t":"2022-05-08","v":29.2},{"t":"2022-05-09","v":27},{"t":"2022-05-10","v":28},{"t":"2022-05-11","v":29.6},{"t":"2022-05-12","v":26.8},{"t":"2022-05-13","v":29.6},{"t":"2022-05-14","v":27.3},{"t":"2022-05-15","v":28.6},{"t":"2022-05-16","v":26.5},{"t":"2022-05-17","v":26.9},{"t":"2022-05-18","v":28.8},{"t":"2022-05-19","v":26.6},{"t":"2022-05-20","v":27.8},{"t":"2022-05-21","v":29},{"t":"2022-05-22","v":26.4},{"t":"2022-05-23","v":28.5},{"t":"2022-05-24","v":26.4},{"t":"2022-05-25","v":28.8},{"t":"2022-05-26","v":27},{"t":"2022-05-27","v":33.3}
],
"ub":[
{"t":"2019-11-25","v":32.4},{"t":"2019-11-25T12:00Z","v":27.9},{"t":"2019-11-26","v":29.5},{"t":"2019-11-26T12:00Z","v":27.2},{"t":"2019-11-27","v":43.1},{"t":"2019-11-27T12:00Z","v":27.5},{"t":"2019-11-28","v":30.1},{"t":"2019-11-28T12:00Z","v":26.5},{"t":"2019-11-29","v":29.5},{"t":"2019-11-29T12:00Z","v":25},{"t":"2019-11-30","v":31},{"t":"2019-11-30T12:00Z","v":26.8},{"t":"2019-12-01","v":35},{"t":"2019-12-01T12:00Z","v":25.5},{"t":"2019-12-02","v":43.3},{"t":"2019-12-02T12:00Z","v":27},{"t":"2019-12-03","v":43.3},{"t":"2019-12-03T12:00Z","v":24.2},{"t":"2019-12-04","v":43.3},{"t":"2019-12-04T12:00Z","v":26},{"t":"2019-12-05","v":40},{"t":"2019-12-05T12:00Z","v":25},{"t":"2019-12-06","v":43.3},{"t":"2019-12-06T12:00Z","v":23.5},{"t":"2019-12-07","v":43.3},{"t":"2019-12-07T12:00Z","v":26.5},{"t":"2019-12-08","v":38},{"t":"2019-12-08T12:00Z","v":24.5},{"t":"2019-12-09","v":43.3},{"t":"2019-12-09T12:00Z","v":27},{"t":"2019-12-10","v":43.3},{"t":"2019-12-10T12:00Z","v":23.1},{"t":"2019-12-11","v":41},{"t":"2019-12-11T12:00Z","v":25.5},{"t":"2019-12-12","v":43.3},{"t":"2019-12-12T12:00Z","v":24},{"t":"2019-12-13","v":43.3},{"t":"2019-12-13T12:00Z","v":26.8},{"t":"2019-12-14","v":36},{"t":"2019-12-14T12:00Z","v":24.2},{"t":"2019-12-15","v":43.3},{"t":"2019-12-15T12:00Z","v":25},{"t":"2019-12-16","v":43.3},{"t":"2019-12-16T12:00Z","v":27.2},{"t":"2019-12-17","v":43.3},{"t":"2019-12-17T12:00Z","v":23.6},{"t":"2019-12-18","v":39},{"t":"2019-12-18T12:00Z","v":26},{"t":"2019-12-19","v":43.3},{"t":"2019-12-19T12:00Z","v":24.5},{"t":"2019-12-20","v":43.3},{"t":"2019-12-20T12:00Z","v":25.8},{"t":"2019-12-21","v":42},{"t":"2019-12-21T12:00Z","v":23.8},{"t":"2019-12-22","v":43.3},{"t":"2019-12-22T12:00Z","v":26.2},{"t":"2019-12-23","v":43.3},{"t":"2019-12-23T12:00Z","v":24.8},{"t":"2019-12-24","v":37},{"t":"2019-12-24T12:00Z","v":25.5},{"t":"2019-12-25","v":43.3},{"t":"2019-12-25T12:00Z","v":23.3},{"t":"2019-12-26","v":43.3},{"t":"2019-12-26T12:00Z","v":26.5},{"t":"2019-12-27","v":43.3},{"t":"2019-12-27T12:00Z","v":24.6},{"t":"2019-12-28","v":40},{"t":"2019-12-28T12:00Z","v":25.8},{"t":"2019-12-29","v":43.3},{"t":"2019-12-29T12:00Z","v":24},{"t":"2019-12-30","v":43.3},{"t":"2019-12-30T12:00Z","v":26.7},{"t":"2019-12-31","v":43.3},{"t":"2019-12-31T12:00Z","v":24.2},{"t":"2020-01-01","v":41},{"t":"2020-01-01T12:00Z","v":25.5},{"t":"2020-01-02","v":43.3},{"t":"2020-01-02T12:00Z","v":23.8},{"t":"2020-01-03","v":43.3},{"t":"2020-01-03T12:00Z","v":26},{"t":"2020-01-04","v":38.5},{"t":"2020-01-04T12:00Z","v":24.5},{"t":"2020-01-05","v":43.3},{"t":"2020-01-05T12:00Z","v":25.2},{"t":"2020-01-06","v":43.3},{"t":"2020-01-06T12:00Z","v":23.5},{"t":"2020-01-07","v":43.3},{"t":"2020-01-07T12:00Z","v":26.5},{"t":"2020-01-08","v":42},{"t":"2020-01-08T12:00Z","v":24.1},{"t":"2020-01-09","v":43.3},{"t":"2020-01-09T12:00Z","v":25},{"t":"2020-01-10","v":39},{"t":"2020-01-10T12:00Z","v":26.6},{"t":"2020-01-11","v":43.3},{"t":"2020-01-11T12:00Z","v":25},{"t":"2020-01-12","v":43.3},{"t":"2020-01-12T12:00Z","v":28},{"t":"2020-01-13","v":29},{"t":"2020-01-13T12:00Z","v":31.5},{"t":"2020-01-14","v":29.5},{"t":"2020-01-14T12:00Z","v":30.5},
{"t":"2020-06-01","v":null},
{"t":"2020-11-16","v":30.1},{"t":"2020-11-16T12:00Z","v":22.7},{"t":"2020-11-17","v":29.5},{"t":"2020-11-17T12:00Z","v":24.2},{"t":"2020-11-18","v":30},{"t":"2020-11-18T12:00Z","v":23.5},{"t":"2020-11-19","v":32},{"t":"2020-11-19T12:00Z","v":24.9},{"t":"2020-11-20","v":29},{"t":"2020-11-20T12:00Z","v":25.5},{"t":"2020-11-21","v":31},{"t":"2020-11-21T12:00Z","v":24},{"t":"2020-11-22","v":32},{"t":"2020-11-22T12:00Z","v":25.7},{"t":"2020-11-23","v":30.9},{"t":"2020-11-23T12:00Z","v":24.5},{"t":"2020-11-24","v":33},{"t":"2020-11-24T12:00Z","v":26},{"t":"2020-11-25","v":31.5},{"t":"2020-11-25T12:00Z","v":25.5},{"t":"2020-11-26","v":30.9},{"t":"2020-11-26T12:00Z","v":24.7},{"t":"2020-11-27","v":34},{"t":"2020-11-27T12:00Z","v":26.5},{"t":"2020-11-28","v":28.6},{"t":"2020-11-28T12:00Z","v":25},{"t":"2020-11-29","v":33},{"t":"2020-11-29T12:00Z","v":26},{"t":"2020-11-30","v":31},{"t":"2020-11-30T12:00Z","v":25.5},{"t":"2020-12-01","v":46},{"t":"2020-12-01T12:00Z","v":27},{"t":"2020-12-02","v":33},{"t":"2020-12-02T12:00Z","v":24.9},{"t":"2020-12-03","v":35},{"t":"2020-12-03T12:00Z","v":26.5},{"t":"2020-12-04","v":38.3},{"t":"2020-12-04T12:00Z","v":27.2},{"t":"2020-12-05","v":34},{"t":"2020-12-05T12:00Z","v":26},{"t":"2020-12-06","v":36},{"t":"2020-12-06T12:00Z","v":26.5},{"t":"2020-12-07","v":39},{"t":"2020-12-07T12:00Z","v":27},{"t":"2020-12-08","v":43.5},{"t":"2020-12-08T12:00Z","v":28},{"t":"2020-12-09","v":36},{"t":"2020-12-09T12:00Z","v":29},{"t":"2020-12-10","v":46},{"t":"2020-12-10T12:00Z","v":30.1},{"t":"2020-12-11","v":33},{"t":"2020-12-12","v":30.9},{"t":"2020-12-14","v":31.5},{"t":"2020-12-16","v":31.3},{"t":"2020-12-18","v":30},{"t":"2020-12-19","v":30.5},{"t":"2020-12-21","v":27.2},{"t":"2020-12-23","v":30.2},{"t":"2020-12-25","v":30.9},{"t":"2020-12-27","v":29.5},{"t":"2020-12-28","v":31},{"t":"2020-12-30","v":29.8},{"t":"2021-01-01","v":30.9},{"t":"2021-01-03","v":29.5},{"t":"2021-01-05","v":30.1},{"t":"2021-01-07","v":28.3},{"t":"2021-01-08","v":30.5},{"t":"2021-01-10","v":31.6},{"t":"2021-01-12","v":27.6},{"t":"2021-01-13","v":30.5},{"t":"2021-01-15","v":29.6},{"t":"2021-01-16","v":31.3},{"t":"2021-01-18","v":29.5},{"t":"2021-01-19","v":32.4},{"t":"2021-01-21","v":29.8},{"t":"2021-01-23","v":31.6},{"t":"2021-01-24","v":28},{"t":"2021-01-25","v":25.7},{"t":"2021-01-26","v":30.5},{"t":"2021-01-28","v":30.1},{"t":"2021-01-30","v":29},{"t":"2021-02-01","v":33.9},{"t":"2021-02-02","v":29},{"t":"2021-02-03","v":28.3},{"t":"2021-02-06","v":28},{"t":"2021-02-08","v":27.8},{"t":"2021-02-12","v":28.3},{"t":"2021-02-16","v":27.9},{"t":"2021-02-19","v":27.2},{"t":"2021-02-23","v":27.6},{"t":"2021-02-26","v":28},{"t":"2021-03-01","v":27.5},{"t":"2021-03-05","v":27.9},{"t":"2021-03-09","v":27.4},{"t":"2021-03-13","v":28.3},{"t":"2021-03-17","v":28},{"t":"2021-03-20","v":28.7},{"t":"2021-03-24","v":29.8},{"t":"2021-03-27","v":28.3},{"t":"2021-03-31","v":27.2},{"t":"2021-04-02","v":26.5},{"t":"2021-04-04","v":25.9},{"t":"2021-04-06","v":26.8},{"t":"2021-04-08","v":27.3},{"t":"2021-04-12","v":27.6},{"t":"2021-04-16","v":26.8},{"t":"2021-04-19","v":27},
{"t":"2021-08-01","v":null},
{"t":"2021-11-23","v":28.7},{"t":"2021-11-28","v":29.3},{"t":"2021-12-03","v":29.1},{"t":"2021-12-08","v":29.5},{"t":"2021-12-13","v":28.9},{"t":"2021-12-17","v":28.5},{"t":"2021-12-20","v":27},{"t":"2021-12-24","v":27.8},{"t":"2021-12-31","v":27.5},{"t":"2022-01-07","v":28.1},{"t":"2022-01-17","v":28.3},{"t":"2022-01-27","v":28.5},{"t":"2022-01-31","v":29.3},{"t":"2022-02-05","v":27.8},{"t":"2022-02-10","v":28},{"t":"2022-02-20","v":28.7},{"t":"2022-02-25","v":28.1},{"t":"2022-02-27","v":27},{"t":"2022-03-02","v":27.8},{"t":"2022-03-13","v":28.1},{"t":"2022-03-23","v":28.5},{"t":"2022-03-30","v":28.7},{"t":"2022-04-06","v":29.1},{"t":"2022-04-09","v":31.1},{"t":"2022-04-10","v":26.6},{"t":"2022-04-11","v":30.5},{"t":"2022-04-12","v":29.6},{"t":"2022-04-13","v":25.5},{"t":"2022-04-14","v":29},{"t":"2022-04-15","v":32.2},{"t":"2022-04-16","v":25.9},{"t":"2022-04-17","v":29.5},{"t":"2022-04-18","v":33.2},{"t":"2022-04-19","v":27.4},{"t":"2022-04-20","v":30},{"t":"2022-04-21","v":31.8},{"t":"2022-04-22","v":27.8},{"t":"2022-04-23","v":28.7},{"t":"2022-04-24","v":30.4},{"t":"2022-04-25","v":27.9},{"t":"2022-04-26","v":28.1},{"t":"2022-04-27","v":29.4},{"t":"2022-04-29","v":28.9},{"t":"2022-05-01","v":28.1},{"t":"2022-05-03","v":28.3},{"t":"2022-05-05","v":29.8},{"t":"2022-05-06","v":29.6}
]
},
"concat":[
{"width":1039,"height":45,"view":{"fill":"#d9d9d9","stroke":"#333333","strokeWidth":2},"data":{"values":[{"s":"Buthu May"}]},"mark":{"type":"text","fontSize":23.5,"color":"#1a1a1a","font":"Liberation Sans"},"encoding":{"text":{"field":"s"}}},
{"width":41,"height":45,"view":{"stroke":null},"data":{"values":[{"s":""}]},"mark":{"type":"point","opacity":0}},
{"width":1039,"height":118,"data":{"name":"ch"},"mark":{"type":"line","color":"#0000ff","strokeWidth":1,"clip":true,"strokeJoin":"round"},
 "encoding":{
  "x":{"field":"t","type":"temporal","scale":{"type":"utc","domain":[1568419200000,1660677120000],"nice":false},"axis":{"values":[1577836800000,1593561600000,1609459200000,1625097600000,1640995200000,1656633600000],"labels":false,"ticks":false,"title":null,"gridWidth":{"condition":{"test":"utcmonth(datum.value) === 0","value":2.8},"value":1.4}}},
  "y":{"field":"v","type":"quantitative","scale":{"domain":[-42,952],"nice":false,"zero":false},"axis":{"values":[0,125,250,375,500,625,750,875],"labelExpr":"datum.value % 250 === 0 ? datum.label : ''","gridWidth":{"condition":{"test":"datum.value % 250 === 0","value":2.8},"value":1.4},"tickOpacity":{"condition":{"test":"datum.value % 250 === 0","value":1},"value":0},"title":null,"minExtent":51,"maxExtent":51}}
 }},
{"width":41,"height":118,"view":{"fill":"#d9d9d9","stroke":"#333333","strokeWidth":2},"data":{"values":[{"s":"cond_high"}]},"mark":{"type":"text","angle":90,"fontSize":23.5,"color":"#1a1a1a","font":"Liberation Sans","clip":true},"encoding":{"text":{"field":"s"}}},
{"width":1039,"height":16.5,"view":{"stroke":null},"data":{"values":[{"s":""}]},"mark":{"type":"point","opacity":0}},
{"width":41,"height":16.5,"view":{"stroke":null},"data":{"values":[{"s":""}]},"mark":{"type":"point","opacity":0}},
{"width":1039,"height":118,"data":{"name":"cl"},"mark":{"type":"line","color":"#0000ff","strokeWidth":1,"clip":true,"strokeJoin":"round"},
 "encoding":{
  "x":{"field":"t","type":"temporal","scale":{"type":"utc","domain":[1568419200000,1660677120000],"nice":false},"axis":{"values":[1577836800000,1593561600000,1609459200000,1625097600000,1640995200000,1656633600000],"labels":false,"ticks":false,"title":null,"gridWidth":{"condition":{"test":"utcmonth(datum.value) === 0","value":2.8},"value":1.4}}},
  "y":{"field":"v","type":"quantitative","scale":{"domain":[-42,944],"nice":false,"zero":false},"axis":{"values":[0,125,250,375,500,625,750,875],"labelExpr":"datum.value % 250 === 0 ? datum.label : ''","gridWidth":{"condition":{"test":"datum.value % 250 === 0","value":2.8},"value":1.4},"tickOpacity":{"condition":{"test":"datum.value % 250 === 0","value":1},"value":0},"title":null,"minExtent":51,"maxExtent":51}}
 }},
{"width":41,"height":118,"view":{"fill":"#d9d9d9","stroke":"#333333","strokeWidth":2},"data":{"values":[{"s":"cond_low"}]},"mark":{"type":"text","angle":90,"fontSize":23.5,"color":"#1a1a1a","font":"Liberation Sans","clip":true},"encoding":{"text":{"field":"s"}}},
{"width":1039,"height":16.5,"view":{"stroke":null},"data":{"values":[{"s":""}]},"mark":{"type":"point","opacity":0}},
{"width":41,"height":16.5,"view":{"stroke":null},"data":{"values":[{"s":""}]},"mark":{"type":"point","opacity":0}},
{"width":1039,"height":118,"data":{"name":"dp"},"mark":{"type":"line","color":"#0000ff","strokeWidth":1,"clip":true,"strokeJoin":"round"},
 "encoding":{
  "x":{"field":"t","type":"temporal","scale":{"type":"utc","domain":[1568419200000,1660677120000],"nice":false},"axis":{"values":[1577836800000,1593561600000,1609459200000,1625097600000,1640995200000,1656633600000],"labels":false,"ticks":false,"title":null,"gridWidth":{"condition":{"test":"utcmonth(datum.value) === 0","value":2.8},"value":1.4}}},
  "y":{"field":"v","type":"quantitative","scale":{"domain":[-1.39,2.5],"nice":false,"zero":false},"axis":{"values":[-1,-0.5,0,0.5,1,1.5,2],"labelExpr":"datum.value % 1 === 0 ? '' + datum.value : ''","gridWidth":{"condition":{"test":"datum.value % 1 === 0","value":2.8},"value":1.4},"tickOpacity":{"condition":{"test":"datum.value % 1 === 0","value":1},"value":0},"title":"value","titlePadding":9.7,"minExtent":51,"maxExtent":51}}
 }},
{"width":41,"height":118,"view":{"fill":"#d9d9d9","stroke":"#333333","strokeWidth":2},"data":{"values":[{"s":"depth"}]},"mark":{"type":"text","angle":90,"fontSize":23.5,"color":"#1a1a1a","font":"Liberation Sans","clip":true},"encoding":{"text":{"field":"s"}}},
{"width":1039,"height":16.5,"view":{"stroke":null},"data":{"values":[{"s":""}]},"mark":{"type":"point","opacity":0}},
{"width":41,"height":16.5,"view":{"stroke":null},"data":{"values":[{"s":""}]},"mark":{"type":"point","opacity":0}},
{"width":1039,"height":118,"data":{"name":"ua"},"mark":{"type":"line","color":"#0000ff","strokeWidth":1,"clip":true,"strokeJoin":"round"},
 "encoding":{
  "x":{"field":"t","type":"temporal","scale":{"type":"utc","domain":[1568419200000,1660677120000],"nice":false},"axis":{"values":[1577836800000,1593561600000,1609459200000,1625097600000,1640995200000,1656633600000],"labels":false,"ticks":false,"title":null,"gridWidth":{"condition":{"test":"utcmonth(datum.value) === 0","value":2.8},"value":1.4}}},
  "y":{"field":"v","type":"quantitative","scale":{"domain":[20.2,53.8],"nice":false,"zero":false},"axis":{"values":[25,30,35,40,45,50],"labelExpr":"datum.value % 10 === 0 ? datum.label : ''","gridWidth":{"condition":{"test":"datum.value % 10 === 0","value":2.8},"value":1.4},"tickOpacity":{"condition":{"test":"datum.value % 10 === 0","value":1},"value":0},"title":null,"minExtent":51,"maxExtent":51}}
 }},
{"width":41,"height":118,"view":{"fill":"#d9d9d9","stroke":"#333333","strokeWidth":2},"data":{"values":[{"s":"temp_U20L"}]},"mark":{"type":"text","angle":90,"fontSize":23.5,"color":"#1a1a1a","font":"Liberation Sans","clip":true},"encoding":{"text":{"field":"s"}}},
{"width":1039,"height":16.5,"view":{"stroke":null},"data":{"values":[{"s":""}]},"mark":{"type":"point","opacity":0}},
{"width":41,"height":16.5,"view":{"stroke":null},"data":{"values":[{"s":""}]},"mark":{"type":"point","opacity":0}},
{"width":1039,"height":118,"data":{"name":"ub"},"mark":{"type":"line","color":"#0000ff","strokeWidth":1,"clip":true,"strokeJoin":"round"},
 "encoding":{
  "x":{"field":"t","type":"temporal","scale":{"type":"utc","domain":[1568419200000,1660677120000],"nice":false},"axis":{"values":[1577836800000,1593561600000,1609459200000,1625097600000,1640995200000,1656633600000],"labelExpr":"utcmonth(datum.value) === 0 ? utcFormat(datum.value, '%Y') : ''","labelPadding":1.5,"gridWidth":{"condition":{"test":"utcmonth(datum.value) === 0","value":2.8},"value":1.4},"tickOpacity":{"condition":{"test":"utcmonth(datum.value) === 0","value":1},"value":0},"title":"datetime","titlePadding":11}},
  "y":{"field":"v","type":"quantitative","scale":{"domain":[20.9,47.2],"nice":false,"zero":false},"axis":{"values":[25,30,35,40,45],"labelExpr":"datum.value % 10 === 0 ? datum.label : ''","gridWidth":{"condition":{"test":"datum.value % 10 === 0","value":2.8},"value":1.4},"tickOpacity":{"condition":{"test":"datum.value % 10 === 0","value":1},"value":0},"title":null,"minExtent":51,"maxExtent":51}}
 }},
{"width":41,"height":118,"view":{"fill":"#d9d9d9","stroke":"#333333","strokeWidth":2},"data":{"values":[{"s":"temp_U24"}]},"mark":{"type":"text","angle":90,"fontSize":23.5,"color":"#1a1a1a","font":"Liberation Sans","clip":true},"encoding":{"text":{"field":"s"}}}
],
"columns":2,
"spacing":{"row":0,"column":0},
"align":"each",
"bounds":"flush"
}
